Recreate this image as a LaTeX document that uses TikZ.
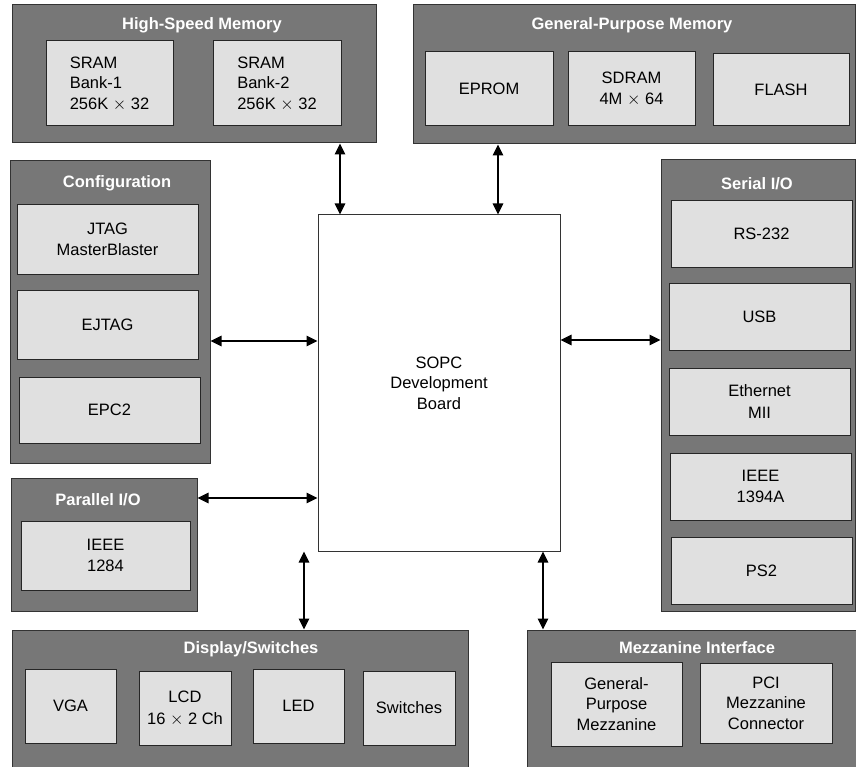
\documentclass[tikz,border=0pt]{standalone}
\usepackage{fontspec}
\setmainfont{Liberation Sans}
\usetikzlibrary{arrows.meta}
\definecolor{panelgray}{HTML}{777777}
\definecolor{boxgray}{HTML}{E0E0E0}
\definecolor{edgegray}{HTML}{333333}
% #1 style, #2 name, #3 x1, #4 y1, #5 x2, #6 y2
\newcommand{\rectnode}[6]{\node[#1,minimum width={#5-#3},minimum height={#6-#4}] (#2) at ({(#3+#5)/2},{(#4+#6)/2})}
\begin{document}
\begin{tikzpicture}[x=1pt,y=-1pt,
  every node/.style={font=\fontsize{16.5}{20.5}\selectfont},
  panel/.style={draw=edgegray,fill=panelgray,line width=1pt,inner sep=0pt},
  unit/.style={draw=black!85,fill=boxgray,line width=1pt,inner sep=0pt,align=center,text=black},
  ptitle/.style={text=white,font=\fontsize{16.5}{20.5}\selectfont\bfseries,inner sep=0pt},
  bi/.style={line width=1.1pt,{Triangle[length=11pt,width=10.5pt]}-{Triangle[length=11pt,width=10.5pt]}}]
\useasboundingbox (0,0) rectangle (856,767);
\clip (0,0) rectangle (856,767);
% High-Speed Memory
\rectnode{panel}{hsm}{12}{5}{376}{143} {};
\node[ptitle] (thsm) at (202,25) {High-Speed Memory};
\rectnode{unit,align=left}{sram1}{46}{41}{173}{126} {SRAM\\Bank-1\\256K $\times$ 32};
\rectnode{unit,align=left}{sram2}{213}{41}{341}{126} {SRAM\\Bank-2\\256K $\times$ 32};
% General-Purpose Memory
\rectnode{panel}{gpm}{413}{5}{855.5}{144} {};
\node[ptitle] (tgpm) at (632,25) {General-Purpose Memory};
\rectnode{unit}{eprom}{425}{52}{553}{126} {EPROM};
\rectnode{unit}{sdram}{568}{52}{695}{126} {SDRAM\\4M $\times$ 64};
\rectnode{unit}{flash}{713}{54}{849}{126} {FLASH};
% Configuration
\rectnode{panel}{cfg}{10}{161}{210}{463} {};
\node[ptitle] (tcfg) at (117,183) {Configuration};
\rectnode{unit}{jtag}{17}{205}{198}{274} {JTAG\\MasterBlaster};
\rectnode{unit}{ejtag}{17}{290}{198}{359} {EJTAG};
\rectnode{unit}{epc2}{19}{377}{200}{443} {EPC2};
% Board
\rectnode{draw=edgegray,fill=white,line width=1pt,inner sep=0pt,align=center}{board}{318}{215}{560}{551} {SOPC\\Development\\Board};
% Serial I/O
\rectnode{panel}{ser}{661}{160}{855.5}{611} {};
\node[ptitle] (tser) at (757,184) {Serial I/O};
\rectnode{unit}{rs}{671}{201}{852}{267} {RS-232};
\rectnode{unit}{usb}{669}{283}{850}{350} {USB};
\rectnode{unit,font=\fontsize{16.5}{22}\selectfont}{eth}{669}{368}{850}{435} {Ethernet\\MII};
\rectnode{unit}{fw}{670}{453}{851}{520} {IEEE\\1394A};
\rectnode{unit}{ps2}{671}{537}{852}{604} {PS2};
% Parallel I/O
\rectnode{panel}{par}{11}{478}{197}{611} {};
\node[ptitle] (tpar) at (98,500) {Parallel I/O};
\rectnode{unit}{ieee}{21}{521}{190}{590} {IEEE\\1284};
% Display/Switches
\rectnode{panel}{disp}{12}{630}{468}{772} {};
\node[ptitle] (tdisp) at (251,649) {Display/Switches};
\rectnode{unit}{vga}{25}{669}{116}{743} {VGA};
\rectnode{unit,font=\fontsize{16.5}{22}\selectfont}{lcd}{139}{671}{231}{745} {LCD\\16 $\times$ 2 Ch};
\rectnode{unit}{led}{253}{669}{344}{743} {LED};
\rectnode{unit}{sw}{363}{671}{455}{745} {Switches};
% Mezzanine Interface
\rectnode{panel}{mez}{527}{630}{858}{772} {};
\node[ptitle] (tmez) at (697,648) {Mezzanine Interface};
\rectnode{unit}{gen}{551}{662}{682}{746} {General-\\Purpose\\Mezzanine};
\rectnode{unit}{pci}{700}{663}{832}{743} {PCI\\Mezzanine\\Connector};
% connector guide coordinates
\coordinate (cA) at (340,0);
\coordinate (cB) at (498,0);
\coordinate (cC) at (0,341);
\coordinate (cD) at (0,340);
\coordinate (cE) at (0,498);
\coordinate (cF) at (304,0);
\coordinate (cG) at (543,0);
% connectors
\draw[bi] (hsm.south -| cA) -- (board.north -| cA);
\draw[bi] (gpm.south -| cB) -- (board.north -| cB);
\draw[bi] (cfg.east |- cC) -- (board.west |- cC);
\draw[bi] (board.east |- cD) -- (ser.west |- cD);
\draw[bi] (par.east |- cE) -- (board.west |- cE);
\draw[bi] (board.south -| cF) -- (disp.north -| cF);
\draw[bi] (board.south -| cG) -- (mez.north -| cG);
\end{tikzpicture}
\end{document}
